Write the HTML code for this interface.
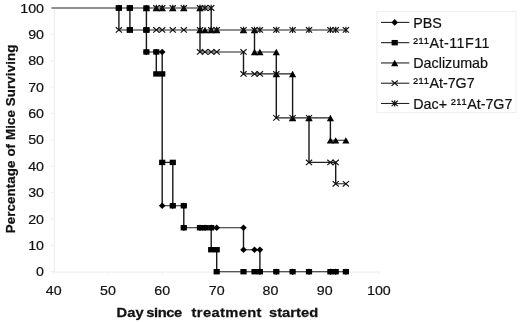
<!DOCTYPE html><html><head><meta charset="utf-8"><style>html,body{margin:0;padding:0;background:#fff}</style></head><body><svg width="520" height="322" viewBox="0 0 520 322" style="display:block;filter:blur(0.25px)" font-family="Liberation Sans, Arial, sans-serif">
<rect width="520" height="322" fill="#fff"/>
<path d="M54.3,8V272.1H379.6" stroke="#ebebeb" stroke-width="1" fill="none"/>
<path d="M50.7,271.7H53.7M50.7,245.33H53.7M50.7,218.96H53.7M50.7,192.59H53.7M50.7,166.22H53.7M50.7,139.85H53.7M50.7,113.48H53.7M50.7,87.11H53.7M50.7,60.74H53.7M50.7,34.37H53.7M50.7,8H53.7M53.7,271.7V274.7M107.9,271.7V274.7M162.2,271.7V274.7M216.7,271.7V274.7M270.5,271.7V274.7M324.7,271.7V274.7M378.9,271.7V274.7" stroke="#efefef" stroke-width="1" fill="none"/>
<text transform="translate(44,276.3) scale(1.07,1)" font-size="13.3" text-anchor="end" fill="#111" stroke="#111" stroke-width="0.2">0</text>
<text transform="translate(44,249.93) scale(1.07,1)" font-size="13.3" text-anchor="end" fill="#111" stroke="#111" stroke-width="0.2">10</text>
<text transform="translate(44,223.56) scale(1.07,1)" font-size="13.3" text-anchor="end" fill="#111" stroke="#111" stroke-width="0.2">20</text>
<text transform="translate(44,197.19) scale(1.07,1)" font-size="13.3" text-anchor="end" fill="#111" stroke="#111" stroke-width="0.2">30</text>
<text transform="translate(44,170.82) scale(1.07,1)" font-size="13.3" text-anchor="end" fill="#111" stroke="#111" stroke-width="0.2">40</text>
<text transform="translate(44,144.45) scale(1.07,1)" font-size="13.3" text-anchor="end" fill="#111" stroke="#111" stroke-width="0.2">50</text>
<text transform="translate(44,118.08) scale(1.07,1)" font-size="13.3" text-anchor="end" fill="#111" stroke="#111" stroke-width="0.2">60</text>
<text transform="translate(44,91.71) scale(1.07,1)" font-size="13.3" text-anchor="end" fill="#111" stroke="#111" stroke-width="0.2">70</text>
<text transform="translate(44,65.34) scale(1.07,1)" font-size="13.3" text-anchor="end" fill="#111" stroke="#111" stroke-width="0.2">80</text>
<text transform="translate(44,38.97) scale(1.07,1)" font-size="13.3" text-anchor="end" fill="#111" stroke="#111" stroke-width="0.2">90</text>
<text transform="translate(44,12.6) scale(1.07,1)" font-size="13.3" text-anchor="end" fill="#111" stroke="#111" stroke-width="0.2">100</text>
<text transform="translate(53.7,295) scale(1.07,1)" font-size="13.3" text-anchor="middle" fill="#111" stroke="#111" stroke-width="0.2">40</text>
<text transform="translate(107.9,295) scale(1.07,1)" font-size="13.3" text-anchor="middle" fill="#111" stroke="#111" stroke-width="0.2">50</text>
<text transform="translate(162.2,295) scale(1.07,1)" font-size="13.3" text-anchor="middle" fill="#111" stroke="#111" stroke-width="0.2">60</text>
<text transform="translate(216.7,295) scale(1.07,1)" font-size="13.3" text-anchor="middle" fill="#111" stroke="#111" stroke-width="0.2">70</text>
<text transform="translate(270.5,295) scale(1.07,1)" font-size="13.3" text-anchor="middle" fill="#111" stroke="#111" stroke-width="0.2">80</text>
<text transform="translate(324.7,295) scale(1.07,1)" font-size="13.3" text-anchor="middle" fill="#111" stroke="#111" stroke-width="0.2">90</text>
<text transform="translate(378.9,295) scale(1.07,1)" font-size="13.3" text-anchor="middle" fill="#111" stroke="#111" stroke-width="0.2">100</text>
<text transform="translate(116.6,317.3) scale(1.13,1)" font-size="13" font-weight="bold" fill="#111" stroke="#111" stroke-width="0.25" textLength="24.07" lengthAdjust="spacing">Day</text>
<text transform="translate(146.2,317.3) scale(1.13,1)" font-size="13" font-weight="bold" fill="#111" stroke="#111" stroke-width="0.25" textLength="31.86" lengthAdjust="spacing">since</text>
<text transform="translate(191.6,317.3) scale(1.13,1)" font-size="13" font-weight="bold" fill="#111" stroke="#111" stroke-width="0.25" textLength="61.77" lengthAdjust="spacing">treatment</text>
<text transform="translate(269,317.3) scale(1.13,1)" font-size="13" font-weight="bold" fill="#111" stroke="#111" stroke-width="0.25" textLength="43.54" lengthAdjust="spacing">started</text>
<text transform="translate(15.2,233.2) rotate(-90) scale(1,0.94)" font-size="13.3" font-weight="bold" fill="#111" stroke="#111" stroke-width="0.25" textLength="188.5" lengthAdjust="spacing">Percentage of Mice Surviving</text>
<path d="M51.53,8H211.2M146.4,51.95H162.2M200,51.95H243.5M254.5,51.95H276.3M162.2,205.77H183.8M183.8,227.75H243.5M211.2,249.72H216.7M243.5,249.72H259.9M216.7,271.7H345.9M118.9,29.97H345.9M156.3,73.92H162.2M243.5,73.92H292.6M162.2,162.4H172.8M309,162.4H335.7M276.3,117.87H330.4M330.4,140.3H345.9M335.7,183.8H345.9" stroke="#222" stroke-width="1.1" fill="none"/>
<path d="M146.4,52.5V7.45M162.2,206.32V51.4M183.8,228.3V205.22M243.5,250.27V227.2M243.5,74.47V51.4M259.9,272.25V249.17M129.9,30.52V7.45M156.3,74.47V51.4M172.8,206.32V161.85M211.2,250.27V227.2M211.2,30.52V7.45M216.7,272.25V249.17M200,52.5V7.45M254.5,52.5V29.42M276.3,118.42V51.4M292.6,118.42V73.37M330.4,140.85V117.32M118.9,30.52V7.45M309,162.95V117.32M335.7,184.35V161.85" stroke="#181818" stroke-width="1.4" fill="none"/>
<path d="M115.6,8L118.9,4.7L122.2,8L118.9,11.3Z" fill="#000"/>
<path d="M126.6,8L129.9,4.7L133.2,8L129.9,11.3Z" fill="#000"/>
<path d="M143.1,8L146.4,4.7L149.7,8L146.4,11.3Z" fill="#000"/>
<path d="M143.1,51.95L146.4,48.65L149.7,51.95L146.4,55.25Z" fill="#000"/>
<path d="M153,51.95L156.3,48.65L159.6,51.95L156.3,55.25Z" fill="#000"/>
<path d="M158.9,51.95L162.2,48.65L165.5,51.95L162.2,55.25Z" fill="#000"/>
<path d="M158.9,205.77L162.2,202.47L165.5,205.77L162.2,209.07Z" fill="#000"/>
<path d="M169.5,205.77L172.8,202.47L176.1,205.77L172.8,209.07Z" fill="#000"/>
<path d="M180.5,205.77L183.8,202.47L187.1,205.77L183.8,209.07Z" fill="#000"/>
<path d="M180.5,227.75L183.8,224.45L187.1,227.75L183.8,231.05Z" fill="#000"/>
<path d="M196.7,227.75L200,224.45L203.3,227.75L200,231.05Z" fill="#000"/>
<path d="M201.7,227.75L205,224.45L208.3,227.75L205,231.05Z" fill="#000"/>
<path d="M207.9,227.75L211.2,224.45L214.5,227.75L211.2,231.05Z" fill="#000"/>
<path d="M213.4,227.75L216.7,224.45L220,227.75L216.7,231.05Z" fill="#000"/>
<path d="M240.2,227.75L243.5,224.45L246.8,227.75L243.5,231.05Z" fill="#000"/>
<path d="M240.2,249.72L243.5,246.42L246.8,249.72L243.5,253.02Z" fill="#000"/>
<path d="M251.2,249.72L254.5,246.42L257.8,249.72L254.5,253.02Z" fill="#000"/>
<path d="M256.6,249.72L259.9,246.42L263.2,249.72L259.9,253.02Z" fill="#000"/>
<path d="M256.6,271.7L259.9,268.4L263.2,271.7L259.9,275Z" fill="#000"/>
<path d="M273,271.7L276.3,268.4L279.6,271.7L276.3,275Z" fill="#000"/>
<path d="M289.3,271.7L292.6,268.4L295.9,271.7L292.6,275Z" fill="#000"/>
<path d="M305.7,271.7L309,268.4L312.3,271.7L309,275Z" fill="#000"/>
<path d="M327.1,271.7L330.4,268.4L333.7,271.7L330.4,275Z" fill="#000"/>
<path d="M332.4,271.7L335.7,268.4L339,271.7L335.7,275Z" fill="#000"/>
<path d="M342.6,271.7L345.9,268.4L349.2,271.7L345.9,275Z" fill="#000"/>
<rect x="115.8" y="5.3" width="6.2" height="5.4" fill="#000"/>
<rect x="126.8" y="5.3" width="6.2" height="5.4" fill="#000"/>
<rect x="126.8" y="27.27" width="6.2" height="5.4" fill="#000"/>
<rect x="143.3" y="27.27" width="6.2" height="5.4" fill="#000"/>
<rect x="143.3" y="49.25" width="6.2" height="5.4" fill="#000"/>
<rect x="153.2" y="49.25" width="6.2" height="5.4" fill="#000"/>
<rect x="153.2" y="71.22" width="6.2" height="5.4" fill="#000"/>
<rect x="159.1" y="71.22" width="6.2" height="5.4" fill="#000"/>
<rect x="159.1" y="159.7" width="6.2" height="5.4" fill="#000"/>
<rect x="169.7" y="159.7" width="6.2" height="5.4" fill="#000"/>
<rect x="169.7" y="203.07" width="6.2" height="5.4" fill="#000"/>
<rect x="180.7" y="203.07" width="6.2" height="5.4" fill="#000"/>
<rect x="180.7" y="225.05" width="6.2" height="5.4" fill="#000"/>
<rect x="196.9" y="225.05" width="6.2" height="5.4" fill="#000"/>
<rect x="201.9" y="225.05" width="6.2" height="5.4" fill="#000"/>
<rect x="208.1" y="225.05" width="6.2" height="5.4" fill="#000"/>
<rect x="208.1" y="247.02" width="6.2" height="5.4" fill="#000"/>
<rect x="213.6" y="247.02" width="6.2" height="5.4" fill="#000"/>
<rect x="213.6" y="269" width="6.2" height="5.4" fill="#000"/>
<rect x="240.4" y="269" width="6.2" height="5.4" fill="#000"/>
<rect x="251.4" y="269" width="6.2" height="5.4" fill="#000"/>
<rect x="256.8" y="269" width="6.2" height="5.4" fill="#000"/>
<rect x="273.2" y="269" width="6.2" height="5.4" fill="#000"/>
<rect x="289.5" y="269" width="6.2" height="5.4" fill="#000"/>
<rect x="305.9" y="269" width="6.2" height="5.4" fill="#000"/>
<rect x="327.3" y="269" width="6.2" height="5.4" fill="#000"/>
<rect x="332.6" y="269" width="6.2" height="5.4" fill="#000"/>
<rect x="342.8" y="269" width="6.2" height="5.4" fill="#000"/>
<path d="M142.8,11.3L146.4,4.9L150,11.3Z" fill="#000"/>
<path d="M152.7,11.3L156.3,4.9L159.9,11.3Z" fill="#000"/>
<path d="M158.6,11.3L162.2,4.9L165.8,11.3Z" fill="#000"/>
<path d="M169.2,11.3L172.8,4.9L176.4,11.3Z" fill="#000"/>
<path d="M180.2,11.3L183.8,4.9L187.4,11.3Z" fill="#000"/>
<path d="M196.4,11.3L200,4.9L203.6,11.3Z" fill="#000"/>
<path d="M196.4,33.27L200,26.87L203.6,33.27Z" fill="#000"/>
<path d="M201.4,33.27L205,26.87L208.6,33.27Z" fill="#000"/>
<path d="M207.6,33.27L211.2,26.87L214.8,33.27Z" fill="#000"/>
<path d="M213.1,33.27L216.7,26.87L220.3,33.27Z" fill="#000"/>
<path d="M239.9,33.27L243.5,26.87L247.1,33.27Z" fill="#000"/>
<path d="M250.9,33.27L254.5,26.87L258.1,33.27Z" fill="#000"/>
<path d="M250.9,55.25L254.5,48.85L258.1,55.25Z" fill="#000"/>
<path d="M256.3,55.25L259.9,48.85L263.5,55.25Z" fill="#000"/>
<path d="M272.7,55.25L276.3,48.85L279.9,55.25Z" fill="#000"/>
<path d="M272.7,77.22L276.3,70.82L279.9,77.22Z" fill="#000"/>
<path d="M289,77.22L292.6,70.82L296.2,77.22Z" fill="#000"/>
<path d="M289,121.17L292.6,114.77L296.2,121.17Z" fill="#000"/>
<path d="M305.4,121.17L309,114.77L312.6,121.17Z" fill="#000"/>
<path d="M326.8,121.17L330.4,114.77L334,121.17Z" fill="#000"/>
<path d="M326.8,143.6L330.4,137.2L334,143.6Z" fill="#000"/>
<path d="M332.1,143.6L335.7,137.2L339.3,143.6Z" fill="#000"/>
<path d="M342.3,143.6L345.9,137.2L349.5,143.6Z" fill="#000"/>
<path d="M115.8,27.27L122,32.67M115.8,32.67L122,27.27" stroke="#111" stroke-width="1.15" fill="none"/>
<path d="M153.2,27.27L159.4,32.67M153.2,32.67L159.4,27.27" stroke="#111" stroke-width="1.15" fill="none"/>
<path d="M159.1,27.27L165.3,32.67M159.1,32.67L165.3,27.27" stroke="#111" stroke-width="1.15" fill="none"/>
<path d="M169.7,27.27L175.9,32.67M169.7,32.67L175.9,27.27" stroke="#111" stroke-width="1.15" fill="none"/>
<path d="M180.7,27.27L186.9,32.67M180.7,32.67L186.9,27.27" stroke="#111" stroke-width="1.15" fill="none"/>
<path d="M196.9,27.27L203.1,32.67M196.9,32.67L203.1,27.27" stroke="#111" stroke-width="1.15" fill="none"/>
<path d="M196.9,49.25L203.1,54.65M196.9,54.65L203.1,49.25" stroke="#111" stroke-width="1.15" fill="none"/>
<path d="M201.9,49.25L208.1,54.65M201.9,54.65L208.1,49.25" stroke="#111" stroke-width="1.15" fill="none"/>
<path d="M208.1,49.25L214.3,54.65M208.1,54.65L214.3,49.25" stroke="#111" stroke-width="1.15" fill="none"/>
<path d="M213.6,49.25L219.8,54.65M213.6,54.65L219.8,49.25" stroke="#111" stroke-width="1.15" fill="none"/>
<path d="M240.4,49.25L246.6,54.65M240.4,54.65L246.6,49.25" stroke="#111" stroke-width="1.15" fill="none"/>
<path d="M240.4,71.22L246.6,76.62M240.4,76.62L246.6,71.22" stroke="#111" stroke-width="1.15" fill="none"/>
<path d="M251.4,71.22L257.6,76.62M251.4,76.62L257.6,71.22" stroke="#111" stroke-width="1.15" fill="none"/>
<path d="M256.8,71.22L263,76.62M256.8,76.62L263,71.22" stroke="#111" stroke-width="1.15" fill="none"/>
<path d="M273.2,71.22L279.4,76.62M273.2,76.62L279.4,71.22" stroke="#111" stroke-width="1.15" fill="none"/>
<path d="M273.2,115.17L279.4,120.57M273.2,120.57L279.4,115.17" stroke="#111" stroke-width="1.15" fill="none"/>
<path d="M289.5,115.17L295.7,120.57M289.5,120.57L295.7,115.17" stroke="#111" stroke-width="1.15" fill="none"/>
<path d="M305.9,115.17L312.1,120.57M305.9,120.57L312.1,115.17" stroke="#111" stroke-width="1.15" fill="none"/>
<path d="M305.9,159.7L312.1,165.1M305.9,165.1L312.1,159.7" stroke="#111" stroke-width="1.15" fill="none"/>
<path d="M327.3,159.7L333.5,165.1M327.3,165.1L333.5,159.7" stroke="#111" stroke-width="1.15" fill="none"/>
<path d="M332.6,159.7L338.8,165.1M332.6,165.1L338.8,159.7" stroke="#111" stroke-width="1.15" fill="none"/>
<path d="M332.6,181.1L338.8,186.5M332.6,186.5L338.8,181.1" stroke="#111" stroke-width="1.15" fill="none"/>
<path d="M342.8,181.1L349,186.5M342.8,186.5L349,181.1" stroke="#111" stroke-width="1.15" fill="none"/>
<path d="M153.2,5.3L159.4,10.7M153.2,10.7L159.4,5.3M156.3,4.8L156.3,11.1" stroke="#111" stroke-width="1.15" fill="none"/>
<path d="M159.1,5.3L165.3,10.7M159.1,10.7L165.3,5.3M162.2,4.8L162.2,11.1" stroke="#111" stroke-width="1.15" fill="none"/>
<path d="M169.7,5.3L175.9,10.7M169.7,10.7L175.9,5.3M172.8,4.8L172.8,11.1" stroke="#111" stroke-width="1.15" fill="none"/>
<path d="M180.7,5.3L186.9,10.7M180.7,10.7L186.9,5.3M183.8,4.8L183.8,11.1" stroke="#111" stroke-width="1.15" fill="none"/>
<path d="M196.9,5.3L203.1,10.7M196.9,10.7L203.1,5.3M200,4.8L200,11.1" stroke="#111" stroke-width="1.15" fill="none"/>
<path d="M201.9,5.3L208.1,10.7M201.9,10.7L208.1,5.3M205,4.8L205,11.1" stroke="#111" stroke-width="1.15" fill="none"/>
<path d="M208.1,5.3L214.3,10.7M208.1,10.7L214.3,5.3M211.2,4.8L211.2,11.1" stroke="#111" stroke-width="1.15" fill="none"/>
<path d="M208.1,27.27L214.3,32.67M208.1,32.67L214.3,27.27M211.2,26.77L211.2,33.07" stroke="#111" stroke-width="1.15" fill="none"/>
<path d="M213.6,27.27L219.8,32.67M213.6,32.67L219.8,27.27M216.7,26.77L216.7,33.07" stroke="#111" stroke-width="1.15" fill="none"/>
<path d="M240.4,27.27L246.6,32.67M240.4,32.67L246.6,27.27M243.5,26.77L243.5,33.07" stroke="#111" stroke-width="1.15" fill="none"/>
<path d="M251.4,27.27L257.6,32.67M251.4,32.67L257.6,27.27M254.5,26.77L254.5,33.07" stroke="#111" stroke-width="1.15" fill="none"/>
<path d="M256.8,27.27L263,32.67M256.8,32.67L263,27.27M259.9,26.77L259.9,33.07" stroke="#111" stroke-width="1.15" fill="none"/>
<path d="M273.2,27.27L279.4,32.67M273.2,32.67L279.4,27.27M276.3,26.77L276.3,33.07" stroke="#111" stroke-width="1.15" fill="none"/>
<path d="M289.5,27.27L295.7,32.67M289.5,32.67L295.7,27.27M292.6,26.77L292.6,33.07" stroke="#111" stroke-width="1.15" fill="none"/>
<path d="M305.9,27.27L312.1,32.67M305.9,32.67L312.1,27.27M309,26.77L309,33.07" stroke="#111" stroke-width="1.15" fill="none"/>
<path d="M327.3,27.27L333.5,32.67M327.3,32.67L333.5,27.27M330.4,26.77L330.4,33.07" stroke="#111" stroke-width="1.15" fill="none"/>
<path d="M332.6,27.27L338.8,32.67M332.6,32.67L338.8,27.27M335.7,26.77L335.7,33.07" stroke="#111" stroke-width="1.15" fill="none"/>
<path d="M342.8,27.27L349,32.67M342.8,32.67L349,27.27M345.9,26.77L345.9,33.07" stroke="#111" stroke-width="1.15" fill="none"/>
<rect x="115.8" y="5.3" width="6.2" height="5.4" fill="#000"/>
<rect x="126.8" y="5.3" width="6.2" height="5.4" fill="#000"/>
<rect x="143.3" y="5.3" width="6.2" height="5.4" fill="#000"/>
<rect x="126.8" y="27.27" width="6.2" height="5.4" fill="#000"/>
<rect x="143.3" y="27.27" width="6.2" height="5.4" fill="#000"/>
<rect x="377" y="11.5" width="139" height="101" fill="#fff" stroke="#eeeeee" stroke-width="1"/>
<path d="M381,22.4H409.3" stroke="#222" stroke-width="1.1"/>
<path d="M391.4,22.4L394.7,19.1L398,22.4L394.7,25.7Z" fill="#000"/>
<text x="413.3" y="27.5" font-size="14.3" fill="#111" stroke="#111" stroke-width="0.2">PBS</text>
<path d="M381,42.67H409.3" stroke="#222" stroke-width="1.1"/>
<rect x="391.6" y="39.97" width="6.2" height="5.4" fill="#000"/>
<text x="413.3" y="47.77" font-size="14.3" fill="#111" stroke="#111" stroke-width="0.2"><tspan letter-spacing="0.6">²¹¹</tspan><tspan letter-spacing="0.5">At-11F11</tspan></text>
<path d="M381,62.94H409.3" stroke="#222" stroke-width="1.1"/>
<path d="M391.1,66.24L394.7,59.84L398.3,66.24Z" fill="#000"/>
<text x="413.3" y="68.04" font-size="14.3" fill="#111" stroke="#111" stroke-width="0.2">Daclizumab</text>
<path d="M381,83.21H409.3" stroke="#222" stroke-width="1.1"/>
<path d="M391.6,80.51L397.8,85.91M391.6,85.91L397.8,80.51" stroke="#111" stroke-width="1.15" fill="none"/>
<text x="413.3" y="88.31" font-size="14.3" fill="#111" stroke="#111" stroke-width="0.2"><tspan letter-spacing="0.6">²¹¹</tspan>At-7G7</text>
<path d="M381,103.48H409.3" stroke="#222" stroke-width="1.1"/>
<path d="M391.6,100.78L397.8,106.18M391.6,106.18L397.8,100.78M394.7,100.28L394.7,106.58" stroke="#111" stroke-width="1.15" fill="none"/>
<text x="413.3" y="108.58" font-size="14.3" fill="#111" stroke="#111" stroke-width="0.2">Dac+ <tspan letter-spacing="0.6">²¹¹</tspan>At-7G7</text>
</svg></body></html>
